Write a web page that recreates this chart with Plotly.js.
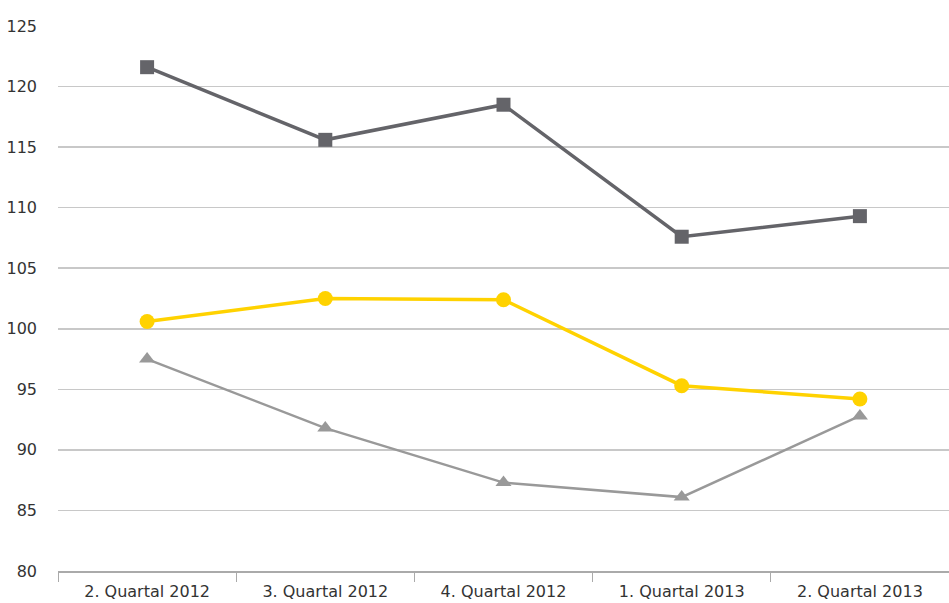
<!DOCTYPE html>
<html>
<head>
<meta charset="utf-8">
<script src="https://cdn.plot.ly/plotly-3.0.1.min.js"></script>
<style>html,body{margin:0;padding:0;background:#fff;}#chart{width:949px;height:603px;}</style>
</head>
<body>
<div id="chart"></div>
<script>
const categories = ["2. Quartal 2012", "3. Quartal 2012", "4. Quartal 2012", "1. Quartal 2013", "2. Quartal 2013"];
const seriesDark = [121.6, 115.6, 118.5, 107.6, 109.3];
const seriesYellow = [100.6, 102.5, 102.4, 95.3, 94.2];
const seriesLight = [97.5, 91.8, 87.3, 86.1, 92.8];
const yTicks = [80, 85, 90, 95, 100, 105, 110, 115, 120, 125];

const traces = [
  {x: categories, y: seriesDark, type: 'scatter', mode: 'lines+markers',
   line: {color: '#646469', width: 3.5}, marker: {symbol: 'square', size: 14, color: '#646469'}},
  {x: categories, y: seriesYellow, type: 'scatter', mode: 'lines+markers',
   line: {color: '#FFD200', width: 3.5}, marker: {symbol: 'circle', size: 15, color: '#FFD200'}},
  {x: categories, y: seriesLight, type: 'scatter', mode: 'lines+markers',
   line: {color: '#999999', width: 2.5}, marker: {symbol: 'triangle-up', size: 14, color: '#999999'}}
];

const layout = {
  width: 949, height: 603,
  margin: {l: 58, r: 0, t: 26, b: 32},
  paper_bgcolor: '#fff', plot_bgcolor: '#fff',
  showlegend: false,
  font: {family: '"DejaVu Sans", sans-serif', size: 16, color: '#333'},
  xaxis: {
    type: 'category', range: [-0.5, 4.5],
    showgrid: false, showline: true, linecolor: '#aaaaaa', linewidth: 1.5,
    ticks: 'outside', tickson: 'boundaries', ticklen: 9, tickcolor: '#aaaaaa', tickwidth: 1,
    ticklabelstandoff: 5,
    tickfont: {size: 16, color: '#333'}, automargin: false
  },
  yaxis: {
    range: [80, 125], tickvals: yTicks, ticktext: yTicks.map(String),
    showgrid: true, gridcolor: '#c8c8c8', gridwidth: 1.5,
    zeroline: false, showline: false, ticks: '', ticklabelstandoff: 20,
    tickfont: {size: 16, color: '#333'}, automargin: false
  }
};

Plotly.newPlot('chart', traces, layout, {displayModeBar: false, staticPlot: true});
</script>
</body>
</html>
